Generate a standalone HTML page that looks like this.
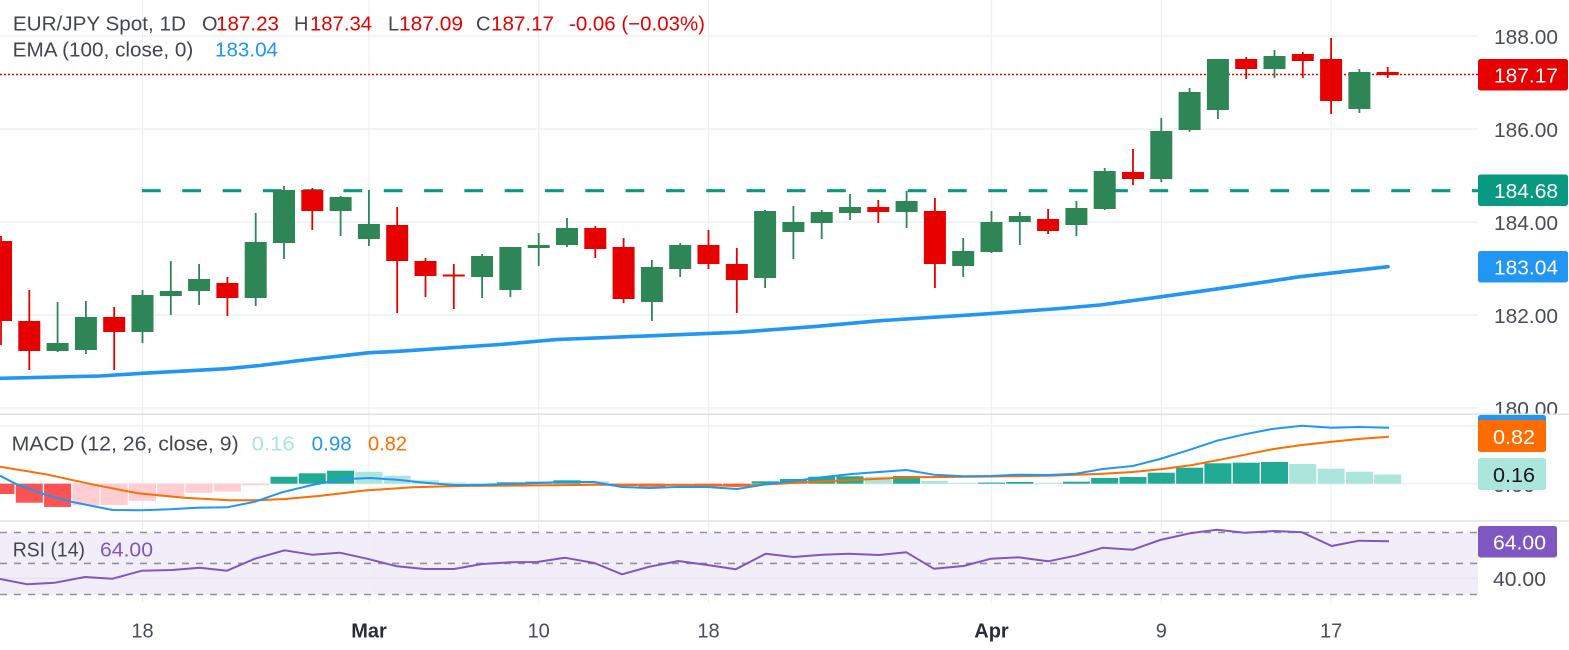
<!DOCTYPE html>
<html>
<head>
<meta charset="utf-8">
<style>
html,body{margin:0;padding:0;background:#ffffff;}
svg{display:block;}
text{font-family:"Liberation Sans",Arial,sans-serif;}
</style>
</head>
<body>
<svg width="1569" height="650" viewBox="0 0 1569 650" xmlns="http://www.w3.org/2000/svg">
<rect x="0" y="0" width="1569" height="650" fill="#ffffff"/>

<!-- RSI band -->
<rect x="0" y="532.5" width="1478" height="62" fill="#f2eef9"/>

<!-- vertical grid -->
<g stroke="#eef0f4" stroke-width="1.3">
<line x1="142.5" y1="0" x2="142.5" y2="603"/>
<line x1="369" y1="0" x2="369" y2="603"/>
<line x1="538.7" y1="0" x2="538.7" y2="603"/>
<line x1="708.5" y1="0" x2="708.5" y2="603"/>
<line x1="991.5" y1="0" x2="991.5" y2="603"/>
<line x1="1161.3" y1="0" x2="1161.3" y2="603"/>
<line x1="1331.1" y1="0" x2="1331.1" y2="603"/>
</g>
<!-- horizontal grid -->
<g stroke="#eef0f4" stroke-width="1.5">
<line x1="0" y1="36" x2="1478" y2="36"/>
<line x1="0" y1="129" x2="1478" y2="129"/>
<line x1="0" y1="222" x2="1478" y2="222"/>
<line x1="0" y1="315" x2="1478" y2="315"/>
<line x1="0" y1="408" x2="1478" y2="408"/>
<line x1="0" y1="426" x2="1478" y2="426"/>
<line x1="0" y1="483.7" x2="1478" y2="483.7"/>
<line x1="0" y1="578.3" x2="1478" y2="578.3" stroke="#e6e3ef"/>
</g>

<!-- panel separators -->
<line x1="0" y1="414.3" x2="1569" y2="414.3" stroke="#dfe2e8" stroke-width="1.5"/>
<line x1="0" y1="521" x2="1569" y2="521" stroke="#dfe2e8" stroke-width="1.5"/>

<!-- RSI dashed levels -->
<g stroke="#8f929b" stroke-width="1.6" stroke-dasharray="7 7">
<line x1="0" y1="532.5" x2="1478" y2="532.5"/>
<line x1="0" y1="563.4" x2="1478" y2="563.4"/>
<line x1="0" y1="594.5" x2="1478" y2="594.5"/>
</g>

<!-- horizontal support dashed line -->
<line x1="142" y1="190.7" x2="1478" y2="190.7" stroke="#089981" stroke-width="3.2" stroke-dasharray="18.7 21.6"/>
<!-- last price dotted line -->
<line x1="0" y1="74.5" x2="1478" y2="74.5" stroke="#e60000" stroke-width="1.5" stroke-dasharray="2 2"/>

<!-- EMA -->
<polyline fill="none" stroke="#2196f3" stroke-width="3.6" stroke-linejoin="round" stroke-linecap="round"
points="0,378.3 100,376 142,373.3 227,368.7 260,365.5 300,360.5 368,352.8 400,351.2 500,344.5 557,339.5 600,337.8 737,332.3 813,326.7 880,320.7 980,314.3 1060,308.5 1100,305 1150,298.3 1233,286.7 1300,276.7 1388,266.7"/>

<!-- Candles -->
<g id="wicks" stroke-width="1.8">
<line x1="1" y1="236" x2="1" y2="345" stroke="#e60000"/>
<line x1="29.3" y1="290" x2="29.3" y2="370" stroke="#e60000"/>
<line x1="57.6" y1="302" x2="57.6" y2="352" stroke="#2e8656"/>
<line x1="85.9" y1="301" x2="85.9" y2="354" stroke="#2e8656"/>
<line x1="114.2" y1="307" x2="114.2" y2="370" stroke="#e60000"/>
<line x1="142.5" y1="290" x2="142.5" y2="343" stroke="#2e8656"/>
<line x1="170.8" y1="261" x2="170.8" y2="315" stroke="#2e8656"/>
<line x1="199.1" y1="264" x2="199.1" y2="305" stroke="#2e8656"/>
<line x1="227.4" y1="277" x2="227.4" y2="316" stroke="#e60000"/>
<line x1="255.7" y1="213" x2="255.7" y2="306" stroke="#2e8656"/>
<line x1="284" y1="186" x2="284" y2="259" stroke="#2e8656"/>
<line x1="312.3" y1="188" x2="312.3" y2="230" stroke="#e60000"/>
<line x1="340.6" y1="196" x2="340.6" y2="236" stroke="#2e8656"/>
<line x1="368.9" y1="190" x2="368.9" y2="246" stroke="#2e8656"/>
<line x1="397.2" y1="207" x2="397.2" y2="313" stroke="#e60000"/>
<line x1="425.5" y1="258" x2="425.5" y2="297" stroke="#e60000"/>
<line x1="453.8" y1="264" x2="453.8" y2="309" stroke="#e60000"/>
<line x1="482.1" y1="254" x2="482.1" y2="298" stroke="#2e8656"/>
<line x1="510.4" y1="247" x2="510.4" y2="297" stroke="#2e8656"/>
<line x1="538.7" y1="233" x2="538.7" y2="266" stroke="#2e8656"/>
<line x1="567" y1="218" x2="567" y2="247" stroke="#2e8656"/>
<line x1="595.3" y1="226" x2="595.3" y2="258" stroke="#e60000"/>
<line x1="623.6" y1="238" x2="623.6" y2="303" stroke="#e60000"/>
<line x1="651.9" y1="260" x2="651.9" y2="321" stroke="#2e8656"/>
<line x1="680.2" y1="243" x2="680.2" y2="277" stroke="#2e8656"/>
<line x1="708.5" y1="230" x2="708.5" y2="269" stroke="#e60000"/>
<line x1="736.8" y1="248" x2="736.8" y2="313" stroke="#e60000"/>
<line x1="765.1" y1="210" x2="765.1" y2="288" stroke="#2e8656"/>
<line x1="793.4" y1="206" x2="793.4" y2="259" stroke="#2e8656"/>
<line x1="821.7" y1="210" x2="821.7" y2="239" stroke="#2e8656"/>
<line x1="850" y1="194" x2="850" y2="220" stroke="#2e8656"/>
<line x1="878.3" y1="200" x2="878.3" y2="223" stroke="#e60000"/>
<line x1="906.6" y1="191" x2="906.6" y2="228" stroke="#2e8656"/>
<line x1="934.9" y1="198" x2="934.9" y2="288" stroke="#e60000"/>
<line x1="963.2" y1="238" x2="963.2" y2="277" stroke="#2e8656"/>
<line x1="991.5" y1="211" x2="991.5" y2="253" stroke="#2e8656"/>
<line x1="1019.8" y1="212" x2="1019.8" y2="245" stroke="#2e8656"/>
<line x1="1048.1" y1="209" x2="1048.1" y2="234" stroke="#e60000"/>
<line x1="1076.4" y1="201" x2="1076.4" y2="236" stroke="#2e8656"/>
<line x1="1104.7" y1="168" x2="1104.7" y2="210" stroke="#2e8656"/>
<line x1="1133" y1="149" x2="1133" y2="185" stroke="#e60000"/>
<line x1="1161.3" y1="118" x2="1161.3" y2="182" stroke="#2e8656"/>
<line x1="1189.6" y1="88" x2="1189.6" y2="132" stroke="#2e8656"/>
<line x1="1217.9" y1="59" x2="1217.9" y2="119" stroke="#2e8656"/>
<line x1="1246.2" y1="57" x2="1246.2" y2="79" stroke="#e60000"/>
<line x1="1274.5" y1="50" x2="1274.5" y2="78" stroke="#2e8656"/>
<line x1="1302.8" y1="52" x2="1302.8" y2="78" stroke="#e60000"/>
<line x1="1331.1" y1="38" x2="1331.1" y2="114" stroke="#e60000"/>
<line x1="1359.4" y1="69" x2="1359.4" y2="113" stroke="#2e8656"/>
<line x1="1387.7" y1="67" x2="1387.7" y2="78" stroke="#e60000"/>
</g>
<g id="bodies">
<rect x="-10" y="241" width="22" height="80" fill="#e60000"/>
<rect x="18.3" y="321" width="22" height="30" fill="#e60000"/>
<rect x="46.6" y="343" width="22" height="8" fill="#2e8656"/>
<rect x="74.9" y="317" width="22" height="33" fill="#2e8656"/>
<rect x="103.2" y="317" width="22" height="15" fill="#e60000"/>
<rect x="131.5" y="295" width="22" height="37" fill="#2e8656"/>
<rect x="159.8" y="291" width="22" height="5" fill="#2e8656"/>
<rect x="188.1" y="279" width="22" height="12" fill="#2e8656"/>
<rect x="216.4" y="283" width="22" height="15" fill="#e60000"/>
<rect x="244.7" y="242" width="22" height="56" fill="#2e8656"/>
<rect x="273" y="190" width="22" height="53" fill="#2e8656"/>
<rect x="301.3" y="190" width="22" height="21" fill="#e60000"/>
<rect x="329.6" y="197" width="22" height="14" fill="#2e8656"/>
<rect x="357.9" y="224" width="22" height="15" fill="#2e8656"/>
<rect x="386.2" y="225" width="22" height="36" fill="#e60000"/>
<rect x="414.5" y="261" width="22" height="15" fill="#e60000"/>
<rect x="442.8" y="274.5" width="22" height="2" fill="#e60000"/>
<rect x="471.1" y="256" width="22" height="21" fill="#2e8656"/>
<rect x="499.4" y="247" width="22" height="43" fill="#2e8656"/>
<rect x="527.7" y="245" width="22" height="3" fill="#2e8656"/>
<rect x="556" y="228" width="22" height="17" fill="#2e8656"/>
<rect x="584.3" y="228" width="22" height="21" fill="#e60000"/>
<rect x="612.6" y="247" width="22" height="52" fill="#e60000"/>
<rect x="640.9" y="267" width="22" height="35" fill="#2e8656"/>
<rect x="669.2" y="245" width="22" height="24" fill="#2e8656"/>
<rect x="697.5" y="245" width="22" height="19" fill="#e60000"/>
<rect x="725.8" y="264" width="22" height="16" fill="#e60000"/>
<rect x="754.1" y="211" width="22" height="67" fill="#2e8656"/>
<rect x="782.4" y="222" width="22" height="10" fill="#2e8656"/>
<rect x="810.7" y="212" width="22" height="11" fill="#2e8656"/>
<rect x="839" y="207" width="22" height="6" fill="#2e8656"/>
<rect x="867.3" y="207" width="22" height="5" fill="#e60000"/>
<rect x="895.6" y="201" width="22" height="11" fill="#2e8656"/>
<rect x="923.9" y="211" width="22" height="53" fill="#e60000"/>
<rect x="952.2" y="251" width="22" height="15" fill="#2e8656"/>
<rect x="980.5" y="222" width="22" height="30" fill="#2e8656"/>
<rect x="1008.8" y="216" width="22" height="6" fill="#2e8656"/>
<rect x="1037.1" y="219" width="22" height="12" fill="#e60000"/>
<rect x="1065.4" y="208" width="22" height="17" fill="#2e8656"/>
<rect x="1093.7" y="171" width="22" height="38" fill="#2e8656"/>
<rect x="1122" y="172" width="22" height="7" fill="#e60000"/>
<rect x="1150.3" y="131" width="22" height="48" fill="#2e8656"/>
<rect x="1178.6" y="92" width="22" height="38" fill="#2e8656"/>
<rect x="1206.9" y="59" width="22" height="51" fill="#2e8656"/>
<rect x="1235.2" y="59" width="22" height="10" fill="#e60000"/>
<rect x="1263.5" y="56" width="22" height="13" fill="#2e8656"/>
<rect x="1291.8" y="54" width="22" height="7" fill="#e60000"/>
<rect x="1320.1" y="59" width="22" height="42" fill="#e60000"/>
<rect x="1348.4" y="72" width="22" height="37" fill="#2e8656"/>
<rect x="1376.7" y="72" width="22" height="3" fill="#e60000"/>
</g>

<!-- MACD histogram -->
<g>
<rect x="-12.5" y="483.7" width="27" height="10.3" fill="#ff5252"/>
<rect x="15.8" y="483.7" width="27" height="19" fill="#ff5252"/>
<rect x="44.1" y="483.7" width="27" height="23.3" fill="#ff5252"/>
<rect x="72.4" y="483.7" width="27" height="21.6" fill="#ffcdd2"/>
<rect x="100.7" y="483.7" width="27" height="21.3" fill="#ffcdd2"/>
<rect x="129" y="483.7" width="27" height="17.1" fill="#ffcdd2"/>
<rect x="157.3" y="483.7" width="27" height="13.1" fill="#ffcdd2"/>
<rect x="185.6" y="483.7" width="27" height="9.1" fill="#ffcdd2"/>
<rect x="213.9" y="483.7" width="27" height="7.8" fill="#ffcdd2"/>
<rect x="242.2" y="483.7" width="27" height="1.6" fill="#ffcdd2"/>
<rect x="270.5" y="476.7" width="27" height="7" fill="#22ab94"/>
<rect x="298.8" y="473.3" width="27" height="10.4" fill="#22ab94"/>
<rect x="327.1" y="470.7" width="27" height="13" fill="#22ab94"/>
<rect x="355.4" y="471.8" width="27" height="11.9" fill="#ace5dc"/>
<rect x="383.7" y="475.8" width="27" height="7.9" fill="#ace5dc"/>
<rect x="412" y="480.3" width="27" height="3.4" fill="#ace5dc"/>
<rect x="440.3" y="482.5" width="27" height="1.2" fill="#ace5dc"/>
<rect x="468.6" y="482.8" width="27" height="0.9" fill="#ace5dc"/>
<rect x="496.9" y="482.3" width="27" height="1.4" fill="#22ab94"/>
<rect x="525.2" y="481.7" width="27" height="2" fill="#22ab94"/>
<rect x="553.5" y="480.3" width="27" height="3.4" fill="#22ab94"/>
<rect x="581.8" y="481.3" width="27" height="2.4" fill="#ace5dc"/>
<rect x="610.1" y="483.7" width="27" height="2.4" fill="#ff5252"/>
<rect x="638.4" y="483.7" width="27" height="3" fill="#ff5252"/>
<rect x="666.7" y="483.7" width="27" height="1.4" fill="#ffcdd2"/>
<rect x="695" y="483.7" width="27" height="2.6" fill="#ff5252"/>
<rect x="723.3" y="483.7" width="27" height="2.4" fill="#ff5252"/>
<rect x="751.6" y="481.3" width="27" height="2.4" fill="#22ab94"/>
<rect x="779.9" y="479" width="27" height="4.7" fill="#22ab94"/>
<rect x="808.2" y="476.7" width="27" height="7" fill="#22ab94"/>
<rect x="836.5" y="476.3" width="27" height="7.4" fill="#22ab94"/>
<rect x="864.8" y="476.7" width="27" height="7" fill="#ace5dc"/>
<rect x="893.1" y="476" width="27" height="7.7" fill="#22ab94"/>
<rect x="921.4" y="481" width="27" height="2.7" fill="#ace5dc"/>
<rect x="949.7" y="482.8" width="27" height="0.9" fill="#ace5dc"/>
<rect x="978" y="482.6" width="27" height="1.1" fill="#22ab94"/>
<rect x="1006.3" y="482" width="27" height="1.7" fill="#22ab94"/>
<rect x="1034.6" y="482.8" width="27" height="0.9" fill="#ace5dc"/>
<rect x="1062.9" y="481.7" width="27" height="2" fill="#22ab94"/>
<rect x="1091.2" y="478" width="27" height="5.7" fill="#22ab94"/>
<rect x="1119.5" y="477" width="27" height="6.7" fill="#22ab94"/>
<rect x="1147.8" y="472.7" width="27" height="11" fill="#22ab94"/>
<rect x="1176.1" y="467.7" width="27" height="16" fill="#22ab94"/>
<rect x="1204.4" y="463.3" width="27" height="20.4" fill="#22ab94"/>
<rect x="1232.7" y="462.7" width="27" height="21" fill="#22ab94"/>
<rect x="1261" y="462" width="27" height="21.7" fill="#22ab94"/>
<rect x="1289.3" y="464" width="27" height="19.7" fill="#ace5dc"/>
<rect x="1317.6" y="468.7" width="27" height="15" fill="#ace5dc"/>
<rect x="1345.9" y="471.7" width="27" height="12" fill="#ace5dc"/>
<rect x="1374.2" y="474.5" width="27" height="9.2" fill="#ace5dc"/>
</g>

<!-- MACD signal -->
<polyline fill="none" stroke="#ff6d00" stroke-width="2" stroke-linejoin="round"
points="0,466.7 46,474.3 92,484.3 138,493.3 184,497.7 230,500.3 257,500.3 285,499 321,495.7 367,490.3 413,487.3 459,486 551,485.3 597,484.7 700,485 737,486 774.6,484 824,481.3 874,479 909,477.3 973.6,476.7 1048,475.7 1098,474 1132.7,472 1162.6,469 1192.4,465 1222,459.3 1247,454.3 1272,449.3 1302,445 1331.7,441.7 1361.5,438.7 1389,436.7"/>
<!-- MACD line -->
<polyline fill="none" stroke="#2196f3" stroke-width="2" stroke-linejoin="round"
points="0,475.7 16,484 43.6,494 71,501.7 112.5,510 142,510.3 170,509.3 197,507.7 227,507.3 255,501.7 282,492.3 312,485 342,479.3 369.5,478 397,479.7 427,483 454,485 482,485 509.5,484 537,483 564.6,482 594,482 622,487 649.5,488 677,487 707,487 737,489 765.7,484.3 794.5,481 822,477.3 851.7,474 879,472 906.4,470 933.8,474.7 963.6,476.3 991,476 1018,474.7 1048,475 1075.5,473.7 1103,469 1132.7,466 1160,459 1190,449.7 1217,440.7 1244.7,434.3 1272,429 1302,425.7 1331.7,427.7 1359,427 1389,427.7"/>

<!-- RSI line -->
<polyline fill="none" stroke="#7e57c2" stroke-width="2" stroke-linejoin="round"
points="0,579 27.5,584.3 55,582.7 85,577 112.5,578.7 142,570.7 172,570 199.7,567.7 227,570.7 255,558.7 284.6,550.3 312,554.7 339.7,552.7 367,558.7 397,566.3 424.6,569 454,569 482,564 509.5,562.3 537,562 564.6,557.7 594.4,563 622,574.3 649.5,566.7 678.4,561 707.5,565 735.8,569.3 765.7,553.7 793.5,557 822,554.7 849,553.7 879,555 906.4,552.3 933.8,568.7 963.6,566 991,558.7 1018,557.3 1048,561.3 1075.5,555.7 1103,547.7 1132.7,549.7 1160,540 1190,533.3 1217,529.7 1244.7,532.7 1274.5,531 1302,532.3 1331.7,546 1359,540.7 1389,541.3"/>

<!-- Header legends -->
<g font-size="20">
<text x="12.9" y="30.5" fill="#434651" textLength="173" lengthAdjust="spacingAndGlyphs">EUR/JPY Spot, 1D</text>
<text x="202" y="30.5" fill="#434651">O</text>
<text x="216" y="30.5" fill="#e60000" textLength="63" lengthAdjust="spacingAndGlyphs">187.23</text>
<text x="294" y="30.5" fill="#434651">H</text>
<text x="310" y="30.5" fill="#e60000" textLength="62" lengthAdjust="spacingAndGlyphs">187.34</text>
<text x="388" y="30.5" fill="#434651">L</text>
<text x="399" y="30.5" fill="#e60000" textLength="64" lengthAdjust="spacingAndGlyphs">187.09</text>
<text x="476" y="30.5" fill="#434651">C</text>
<text x="491" y="30.5" fill="#e60000" textLength="63" lengthAdjust="spacingAndGlyphs">187.17</text>
<text x="569" y="30.5" fill="#e60000" textLength="136" lengthAdjust="spacingAndGlyphs">-0.06 (−0.03%)</text>

<text x="12.7" y="56.7" fill="#434651" textLength="180.6" lengthAdjust="spacingAndGlyphs">EMA (100, close, 0)</text>
<text x="215" y="56.7" fill="#2196f3" textLength="63" lengthAdjust="spacingAndGlyphs">183.04</text>

<text x="11.7" y="450.7" fill="#434651" textLength="227" lengthAdjust="spacingAndGlyphs">MACD (12, 26, close, 9)</text>
<text x="251.7" y="450.7" fill="#ace5dc" textLength="43" lengthAdjust="spacingAndGlyphs">0.16</text>
<text x="311.7" y="450.7" fill="#2196f3" textLength="40" lengthAdjust="spacingAndGlyphs">0.98</text>
<text x="368" y="450.7" fill="#ff6d00" textLength="39" lengthAdjust="spacingAndGlyphs">0.82</text>

<text x="12.7" y="556.7" fill="#434651" textLength="72.3" lengthAdjust="spacingAndGlyphs">RSI (14)</text>
<text x="100" y="556.7" fill="#7e57c2" textLength="53" lengthAdjust="spacingAndGlyphs">64.00</text>
</g>

<!-- Right price axis -->
<g font-size="20" fill="#4a4d57">
<text x="1494" y="44" textLength="64" lengthAdjust="spacingAndGlyphs">188.00</text>
<text x="1494" y="137" textLength="64" lengthAdjust="spacingAndGlyphs">186.00</text>
<text x="1494" y="230" textLength="64" lengthAdjust="spacingAndGlyphs">184.00</text>
<text x="1494" y="323" textLength="64" lengthAdjust="spacingAndGlyphs">182.00</text>
</g>
<!-- 180.00 clipped by separator -->
<clipPath id="c180"><rect x="1478" y="395" width="91" height="18.5"/></clipPath>
<text x="1494" y="416" font-size="20" fill="#4a4d57" textLength="64" lengthAdjust="spacingAndGlyphs" clip-path="url(#c180)">180.00</text>

<!-- price label boxes -->
<rect x="1478" y="59" width="90" height="31.5" rx="2.5" fill="#e60000"/>
<text x="1494" y="82.5" font-size="20" fill="#ffffff" textLength="64" lengthAdjust="spacingAndGlyphs">187.17</text>
<rect x="1478" y="174.5" width="90" height="31.5" rx="2.5" fill="#089981"/>
<text x="1494" y="198" font-size="20" fill="#ffffff" textLength="64" lengthAdjust="spacingAndGlyphs">184.68</text>
<rect x="1478" y="251" width="90" height="31.5" rx="2.5" fill="#2196f3"/>
<text x="1494" y="274.5" font-size="20" fill="#ffffff" textLength="64" lengthAdjust="spacingAndGlyphs">183.04</text>

<!-- MACD axis -->
<text x="1493" y="492" font-size="20" fill="#4a4d57" textLength="42" lengthAdjust="spacingAndGlyphs">0.00</text>
<rect x="1478" y="415" width="68" height="25" rx="2.5" fill="#2196f3"/>
<rect x="1478" y="420" width="68" height="32" rx="2.5" fill="#ff6d00"/>
<text x="1493" y="444" font-size="20" fill="#ffffff" textLength="42" lengthAdjust="spacingAndGlyphs">0.82</text>
<rect x="1478" y="458" width="68" height="32" rx="2.5" fill="#ace5dc"/>
<text x="1493" y="482" font-size="20" fill="#131722" textLength="42" lengthAdjust="spacingAndGlyphs">0.16</text>

<!-- RSI axis -->
<text x="1493" y="586" font-size="20" fill="#4a4d57" textLength="53" lengthAdjust="spacingAndGlyphs">40.00</text>
<rect x="1478" y="526" width="79" height="31.5" rx="2.5" fill="#7e57c2"/>
<text x="1493" y="549.5" font-size="20" fill="#ffffff" textLength="53" lengthAdjust="spacingAndGlyphs">64.00</text>

<!-- Time axis -->
<g font-size="20" fill="#4a4d57" text-anchor="middle">
<text x="142.5" y="637.3">18</text>
<text x="369" y="637.3" font-weight="bold" fill="#2a2e39">Mar</text>
<text x="538.7" y="637.3">10</text>
<text x="708.5" y="637.3">18</text>
<text x="991.5" y="637.3" font-weight="bold" fill="#2a2e39">Apr</text>
<text x="1161.3" y="637.3">9</text>
<text x="1331.1" y="637.3">17</text>
</g>
</svg>
</body>
</html>
